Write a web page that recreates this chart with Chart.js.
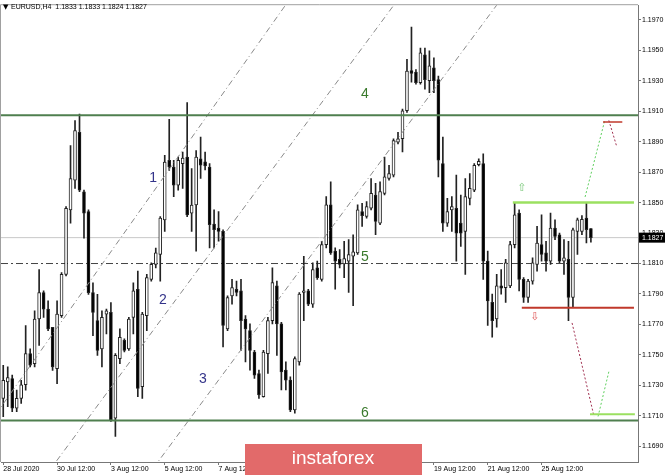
<!DOCTYPE html>
<html>
<head>
<meta charset="utf-8">
<script src="https://cdn.jsdelivr.net/npm/chart.js@4.4.0/dist/chart.umd.min.js"></script>
<style>
  html, body { margin: 0; padding: 0; background: #fff; }
</style>
</head>
<body>
<canvas id="myChart" width="665" height="475"></canvas>
<script>
const symbol = 'EURUSD,H4';
const timeLabels = ['28 Jul 2020', '30 Jul 12:00', '3 Aug 12:00', '5 Aug 12:00', '7 Aug 12:00',
    '11 Aug 12:00', '13 Aug 12:00', '17 Aug 12:00', '19 Aug 12:00', '21 Aug 12:00', '25 Aug 12:00'];
const barsPerLabel = 12;
const totalSlots = 142;
const yTicks = [1.1690, 1.1710, 1.1730, 1.1750, 1.1770, 1.1790, 1.1810, 1.1830,
    1.1850, 1.1870, 1.1890, 1.1910, 1.1930, 1.1950, 1.1970];

const openP = [
    1.17215, 1.17323, 1.17345, 1.17150, 1.17215, 1.17304, 1.17508, 1.17443, 1.17736, 1.17909, 1.17801, 1.17681,
    1.17410, 1.17757, 1.18029, 1.18452, 1.18647, 1.18962, 1.18571, 1.18441, 1.17909, 1.17725, 1.17540, 1.17768,
    1.17779, 1.17085, 1.17475, 1.17595, 1.17540, 1.17747, 1.17931, 1.17291, 1.17757, 1.17996, 1.18094, 1.18159,
    1.18387, 1.18777, 1.18734, 1.18615, 1.18756, 1.18799, 1.18430, 1.18484, 1.18788, 1.18767, 1.18734, 1.18359,
    1.18333, 1.18311, 1.17671, 1.17888, 1.17931, 1.17920, 1.17736, 1.17660, 1.17519, 1.17378, 1.17226, 1.17508,
    1.17725, 1.17953, 1.17704, 1.17400, 1.17335, 1.17139, 1.17454, 1.17910, 1.17920, 1.17834, 1.18072, 1.17996,
    1.18224, 1.18485, 1.18181, 1.18127, 1.18098, 1.18116, 1.18148, 1.18170, 1.18441, 1.18409, 1.18463, 1.18550,
    1.18365, 1.18561, 1.18658, 1.18680, 1.18897, 1.18919, 1.19103, 1.19366, 1.19357, 1.19288, 1.19470, 1.19301,
    1.19385, 1.19307, 1.18756, 1.18365, 1.18452, 1.18463, 1.18365, 1.18311, 1.18528, 1.18582, 1.18749, 1.18756,
    1.18116, 1.17845, 1.17736, 1.17953, 1.17942, 1.17953, 1.18224, 1.18431, 1.17996, 1.17877, 1.17985, 1.18094,
    1.18224, 1.18170, 1.18116, 1.18333, 1.18289, 1.18116, 1.18127, 1.17877, 1.18311, 1.18311, 1.18398, 1.18330
];
const highP = [
    1.17432, 1.17421, 1.17367, 1.17269, 1.17334, 1.17692, 1.17540, 1.17790, 1.18061, 1.17920, 1.17855, 1.17681,
    1.17855, 1.18040, 1.18474, 1.18875, 1.19038, 1.19081, 1.18582, 1.18452, 1.17974, 1.17898, 1.17790, 1.17801,
    1.17844, 1.17508, 1.17671, 1.17605, 1.17747, 1.17974, 1.18050, 1.17779, 1.18029, 1.18105, 1.18202, 1.18408,
    1.18810, 1.19046, 1.18777, 1.18799, 1.18832, 1.19157, 1.18723, 1.18842, 1.18930, 1.18832, 1.18756, 1.18452,
    1.18441, 1.18322, 1.17888, 1.17996, 1.17985, 1.17996, 1.17758, 1.17704, 1.17530, 1.17400, 1.17530, 1.17747,
    1.18072, 1.17985, 1.17714, 1.17454, 1.17356, 1.17487, 1.17910, 1.18148, 1.17931, 1.18105, 1.18116, 1.18246,
    1.18539, 1.18637, 1.18203, 1.18192, 1.18246, 1.18257, 1.18289, 1.18485, 1.18496, 1.18506, 1.18658, 1.18626,
    1.18637, 1.18799, 1.18745, 1.18919, 1.18962, 1.19114, 1.19440, 1.19652, 1.19374, 1.19515, 1.19515, 1.19496,
    1.19450, 1.19331, 1.18930, 1.18528, 1.18539, 1.18680, 1.18550, 1.18658, 1.18691, 1.18756, 1.18788, 1.18821,
    1.18181, 1.17899, 1.18029, 1.18061, 1.18127, 1.18246, 1.18496, 1.18452, 1.18007, 1.17996, 1.18138, 1.18344,
    1.18420, 1.18246, 1.18431, 1.18387, 1.18300, 1.18257, 1.18246, 1.18333, 1.18398, 1.18415, 1.18496, 1.18330
];
const lowP = [
    1.17095, 1.17161, 1.17128, 1.17128, 1.17182, 1.17269, 1.17421, 1.17421, 1.17562, 1.17747, 1.17660, 1.17399,
    1.17312, 1.17747, 1.18018, 1.18365, 1.18593, 1.18571, 1.18267, 1.17898, 1.17627, 1.17497, 1.17421, 1.17638,
    1.17063, 1.16965, 1.17443, 1.17519, 1.17530, 1.17638, 1.17226, 1.17215, 1.17660, 1.17985, 1.18072, 1.17985,
    1.18311, 1.18712, 1.18539, 1.18582, 1.18593, 1.18408, 1.18311, 1.18181, 1.18658, 1.18715, 1.18203, 1.18203,
    1.18246, 1.17552, 1.17660, 1.17834, 1.17888, 1.17530, 1.17454, 1.17400, 1.17345, 1.17215, 1.17222, 1.17378,
    1.17704, 1.17497, 1.17270, 1.17270, 1.17128, 1.17118, 1.17432, 1.17725, 1.17823, 1.17812, 1.17996, 1.17985,
    1.18203, 1.18159, 1.17931, 1.18072, 1.18007, 1.17910, 1.17823, 1.18159, 1.18344, 1.18398, 1.18452, 1.18289,
    1.18355, 1.18550, 1.18648, 1.18669, 1.18886, 1.18832, 1.19092, 1.19290, 1.19277, 1.19277, 1.19244, 1.19222,
    1.19222, 1.18669, 1.18311, 1.18344, 1.18311, 1.18116, 1.18213, 1.18029, 1.18485, 1.18572, 1.18741, 1.17996,
    1.17693, 1.17617, 1.17682, 1.17899, 1.17845, 1.17942, 1.18203, 1.17920, 1.17845, 1.17845, 1.17964, 1.18050,
    1.18116, 1.18050, 1.18094, 1.18257, 1.18105, 1.18029, 1.17725, 1.17812, 1.18159, 1.18289, 1.18235, 1.18240
];
const closeP = [
    1.17334, 1.17352, 1.17150, 1.17215, 1.17304, 1.17508, 1.17432, 1.17736, 1.17909, 1.17801, 1.17671, 1.17421,
    1.17768, 1.18029, 1.18463, 1.18658, 1.18973, 1.18582, 1.18430, 1.17909, 1.17779, 1.17530, 1.17747, 1.17790,
    1.17074, 1.17497, 1.17616, 1.17530, 1.17736, 1.17920, 1.17280, 1.17768, 1.18007, 1.18094, 1.18170, 1.18398,
    1.18766, 1.18734, 1.18615, 1.18777, 1.18792, 1.18419, 1.18484, 1.18799, 1.18745, 1.18741, 1.18355, 1.18322,
    1.18311, 1.17693, 1.17877, 1.17942, 1.17910, 1.17725, 1.17671, 1.17530, 1.17367, 1.17237, 1.17519, 1.17725,
    1.17975, 1.17704, 1.17389, 1.17335, 1.17139, 1.17476, 1.17899, 1.17920, 1.17834, 1.18061, 1.18007, 1.18224,
    1.18485, 1.18170, 1.18116, 1.18094, 1.18133, 1.18159, 1.18177, 1.18452, 1.18415, 1.18474, 1.18561, 1.18376,
    1.18572, 1.18669, 1.18691, 1.18908, 1.18919, 1.19103, 1.19364, 1.19348, 1.19288, 1.19483, 1.19307, 1.19398,
    1.19301, 1.18778, 1.18365, 1.18441, 1.18474, 1.18300, 1.18300, 1.18539, 1.18593, 1.18745, 1.18771, 1.18116,
    1.17855, 1.17725, 1.17953, 1.17938, 1.18105, 1.18224, 1.18420, 1.17996, 1.17877, 1.17985, 1.18105, 1.18235,
    1.18159, 1.18116, 1.18333, 1.18278, 1.18116, 1.18138, 1.17877, 1.18322, 1.18387, 1.18391, 1.18322, 1.18270
];

// horizontal levels drawn on the chart
const greenLevels = [1.19073, 1.17070];
const pivotLevel = 1.1810;
const rangeTop = 1.1850;
const rangeBottom = 1.17809;
const targetUp = 1.1903;
const targetDown = 1.1711;

// [barIndex, price] pairs for the drawn objects
const channelA = [[-5, 1.16971], [70, 1.20091]];
const channelB = [[5, 1.16530], [95, 1.20112]];
const channelC = [[30, 1.16620], [115, 1.19995]];

const last = closeP.length - 1;
const cats = Array.from({ length: totalSlots }, (_, i) => i % barsPerLabel === 0 ? (timeLabels[i / barsPerLabel] || '') : '');
const wicks = lowP.map((l, i) => [l, highP[i]]);
const bodies = openP.map((o, i) => {
    let lo = Math.min(o, closeP[i]), hi = Math.max(o, closeP[i]);
    if (hi - lo < 0.00004) { lo -= 0.00002; hi += 0.00002; }
    return [lo, hi];
});
const isUp = i => closeP[i] >= openP[i];

function seg(pts, color, width, dash, order) {
    return {
        type: 'line',
        xAxisID: 'xl',
        data: pts.map(p => ({ x: p[0], y: p[1] })),
        borderColor: color,
        borderWidth: width,
        borderDash: dash || [],
        pointRadius: 0,
        fill: false,
        tension: 0,
        order: order || 1
    };
}
const L = -0.5, R = totalSlots - 0.5;

Chart.defaults.font.family = "'Liberation Sans', 'DejaVu Sans', sans-serif";

const overlay = {
    id: 'overlay',
    afterDraw(chart) {
        const ctx = chart.ctx, a = chart.chartArea;
        const xs = chart.scales.xl, ys = chart.scales.y;
        ctx.save();
        ctx.strokeStyle = '#a0a0a0';
        ctx.lineWidth = 1;
        ctx.beginPath();
        ctx.moveTo(a.left - 0.5, a.bottom);
        ctx.lineTo(a.left - 0.5, a.top - 0.5);
        ctx.lineTo(a.right, a.top - 0.5);
        ctx.stroke();

        const put = (txt, i, p, color, size) => {
            ctx.fillStyle = color;
            ctx.font = size + "px 'Liberation Sans', 'DejaVu Sans', sans-serif";
            ctx.textAlign = 'center';
            ctx.textBaseline = 'middle';
            ctx.fillText(txt, xs.getPixelForValue(i), ys.getPixelForValue(p));
        };
        put('1', 33.4, 1.18661, '#34348a', 14);
        put('2', 35.6, 1.17859, '#34348a', 14);
        put('3', 44.5, 1.17344, '#34348a', 14);
        put('4', 80.6, 1.19209, '#3a7a2c', 14);
        put('5', 80.6, 1.18145, '#3a7a2c', 14);
        put('6', 80.6, 1.17116, '#3a7a2c', 14);
        put('\u21E7', 115.6, 1.18596, '#7cc97c', 11);
        put('\u21E9', 118.5, 1.17749, '#e05a5a', 11);

        // header
        ctx.fillStyle = '#000';
        ctx.textAlign = 'left';
        ctx.textBaseline = 'middle';
        ctx.font = "7px 'DejaVu Sans', sans-serif";
        ctx.fillText('\u25BC', a.left + 2, 7);
        ctx.font = "7px 'Liberation Sans', sans-serif";
        const f = v => v.toFixed(4);
        ctx.fillText(symbol + '  ' + [openP[last], highP[last], lowP[last], closeP[last]].map(f).join(' '), a.left + 10, 7);

        // current price box
        const py = ys.getPixelForValue(closeP[last]);
        ctx.fillStyle = '#000';
        ctx.fillRect(a.right + 1, py - 5, 27, 10);
        ctx.fillStyle = '#fff';
        ctx.fillText(f(closeP[last]), a.right + 4, py + 0.5);

        // watermark
        ctx.fillStyle = '#e26a6a';
        ctx.fillRect(245, 444, 177, 31);
        ctx.fillStyle = '#fff';
        ctx.textAlign = 'center';
        ctx.font = "19px 'Liberation Sans', sans-serif";
        ctx.fillText('instaforex', 333, 459);
        ctx.restore();
    }
};

new Chart(document.getElementById('myChart').getContext('2d'), {
    type: 'bar',
    data: {
        labels: cats,
        datasets: [
            {
                data: bodies,
                grouped: false,
                barThickness: 3,
                backgroundColor: ctx => isUp(ctx.dataIndex) ? '#ffffff' : '#000000',
                borderColor: '#222',
                borderWidth: 1,
                borderSkipped: false,
                order: 4
            },
            {
                data: wicks,
                grouped: false,
                barThickness: 1,
                backgroundColor: '#222',
                borderWidth: 0,
                order: 5
            },
            seg([[L, closeP[last]], [R, closeP[last]]], '#c8c8c8', 1, [], 10),
            seg([[L, pivotLevel], [R, pivotLevel]], '#444', 1, [7, 3, 2, 3], 10),
            seg([[L, greenLevels[0]], [R, greenLevels[0]]], '#4f7f4f', 2),
            seg([[L, greenLevels[1]], [R, greenLevels[1]]], '#4f7f4f', 2),
            seg(channelA, '#8a8a8a', 1, [6, 3, 1, 3]),
            seg(channelB, '#8a8a8a', 1, [6, 3, 1, 3]),
            seg(channelC, '#8a8a8a', 1, [6, 3, 1, 3]),
            seg([[113.6, rangeTop], [140.6, rangeTop]], '#9be060', 2.5),
            seg([[115.6, rangeBottom], [140.6, rangeBottom]], '#c0392b', 2),
            seg([[130.8, targetDown], [140.8, targetDown]], '#9be060', 2),
            seg([[133.7, targetUp], [138.0, targetUp]], '#c0392b', 1.5),
            seg([[129.7, 1.18537], [134.1, 1.19040]], '#5fcf5f', 1, [2, 2]),
            seg([[135.0, 1.19040], [136.8, 1.18864]], '#a03050', 1, [2, 2]),
            seg([[126.8, 1.17710], [131.7, 1.17096]], '#a03050', 1, [2, 2]),
            seg([[132.6, 1.17096], [135.0, 1.17390]], '#5fcf5f', 1, [2, 2])
        ]
    },
    options: {
        responsive: false,
        animation: false,
        events: [],
        layout: { padding: { left: 1, top: 1, right: 0, bottom: 0 } },
        plugins: { legend: { display: false }, tooltip: { enabled: false } },
        scales: {
            x: {
                offset: true,
                grid: { offset: false, drawOnChartArea: false, tickLength: 3, color: '#777' },
                border: { color: '#777' },
                ticks: { autoSkip: false, maxRotation: 0, align: 'start', padding: 0, color: '#000', font: { size: 7 } },
                afterBuildTicks: s => { s.ticks = s.ticks.filter(t => t.value % barsPerLabel === 0 && cats[t.value]); },
                afterFit: s => { s.height = 13; }
            },
            xl: { type: 'linear', display: false, offset: false, min: L, max: R },
            y: {
                position: 'right',
                min: 1.16797,
                max: 1.19796,
                grid: { drawOnChartArea: false, tickLength: 3, color: '#777' },
                border: { color: '#777' },
                ticks: { padding: 1, color: '#000', font: { size: 7 }, callback: v => v.toFixed(4) },
                afterBuildTicks: s => { s.ticks = yTicks.map(v => ({ value: v })); },
                afterFit: s => { s.width = 27; }
            }
        }
    },
    plugins: [overlay]
});
</script>
</body>
</html>
